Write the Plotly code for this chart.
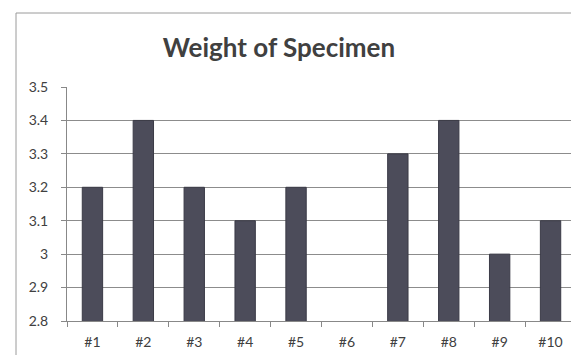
import plotly.graph_objects as go

categories = ["#1", "#2", "#3", "#4", "#5", "#6", "#7", "#8", "#9", "#10"]
weights = [3.2, 3.4, 3.2, 3.1, 3.2, None, 3.3, 3.4, 3.0, 3.1]
y_ticks = [2.8, 2.9, 3.0, 3.1, 3.2, 3.3, 3.4, 3.5]
y_tick_labels = ["2.8", "2.9", "3", "3.1", "3.2", "3.3", "3.4", "3.5"]

W, H = 579, 355
ml, mr, mt, mb = 59, 11, 79, 42
pw, ph = W - ml - mr, H - mt - mb

fig = go.Figure(go.Bar(
    x=categories, y=weights,
    marker=dict(color="#4c4c5a", line=dict(color="#3a3a46", width=1)),
    width=0.4,
))

fig.update_layout(
    width=W, height=H,
    margin=dict(l=ml, r=mr, t=mt, b=mb),
    paper_bgcolor="white", plot_bgcolor="white",
    showlegend=False,
    font=dict(family="Lato, Open Sans, sans-serif", color="#404040"),
    title=dict(text="<b>Weight of Specimen</b>", x=271 / W, xanchor="center",
               xref="container",
               y=1 - 40 / H, yanchor="middle",
               font=dict(size=26, color="#404040", family="Lato, Open Sans, sans-serif")),
    xaxis=dict(
        type="category", showgrid=False, showline=True, linecolor="#888888", linewidth=1,
        ticks="outside", ticklen=5, tickcolor="#888888", tickson="boundaries",
        ticklabelstandoff=8, automargin=False,
        tickfont=dict(size=14, color="#404040"), range=[-0.5, 9.5],
    ),
    yaxis=dict(
        range=[2.8, 3.5], tickvals=y_ticks, ticktext=y_tick_labels,
        showgrid=True, gridcolor="#8c8c8c", gridwidth=1,
        showline=True, linecolor="#888888", linewidth=1,
        ticks="outside", ticklen=5, tickcolor="#888888",
        ticklabelstandoff=10, automargin=False,
        tickfont=dict(size=14, color="#404040"), zeroline=False,
    ),
    shapes=[dict(
        type="rect", xref="paper", yref="paper",
        x0=(8 - ml) / pw, x1=(574 - ml) / pw,
        y0=-(349 - (mt + ph)) / ph,
        y1=1 + (mt - 5) / ph,
        line=dict(color="#9a9a9a", width=1), layer="below",
    )],
)

fig.write_html("out.html")
